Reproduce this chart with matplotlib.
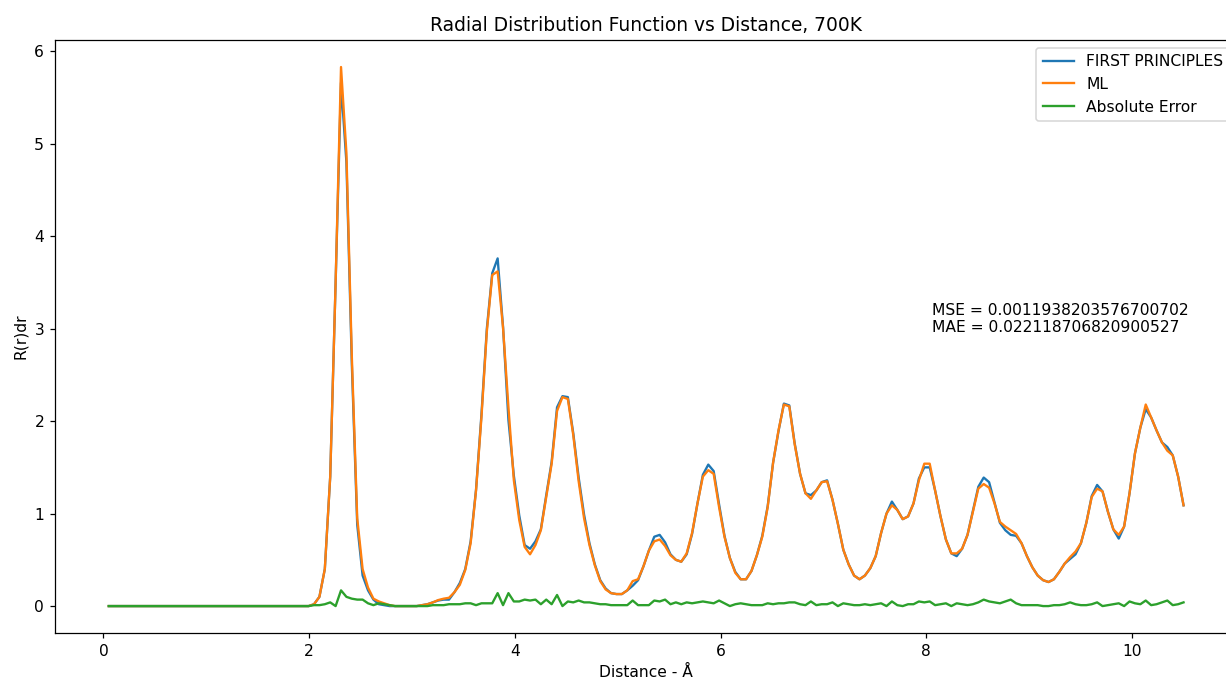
import numpy as np
import matplotlib
matplotlib.use("Agg")
import matplotlib.pyplot as plt

# RDF bins: 200 bins on (0, 10.5], plotted at the upper bin edge
r_max = 10.5
n_bins = 200
r = np.linspace(r_max / n_bins, r_max, n_bins)

first_principles = [0.0] * 37 + [
    0.0, 0.02, 0.1, 0.4, 1.4, 3.5, 5.66, 4.8, 2.62, 0.88,
    0.33, 0.17, 0.07, 0.02, 0.01, 0.0, 0.0, 0.0, 0.0, 0.0,
    0.0, 0.01, 0.02, 0.04, 0.06, 0.07, 0.07, 0.15, 0.25, 0.40,
    0.70, 1.26, 2.07, 3.0, 3.60, 3.76, 3.02, 2.01, 1.41, 0.98,
    0.66, 0.62, 0.70, 0.83, 1.20, 1.56, 2.15, 2.27, 2.26, 1.87,
    1.39, 0.99, 0.68, 0.45, 0.28, 0.19, 0.14, 0.13, 0.13, 0.17,
    0.22, 0.28, 0.43, 0.60, 0.75, 0.77, 0.69, 0.56, 0.50, 0.48,
    0.56, 0.78, 1.11, 1.42, 1.53, 1.46, 1.10, 0.76, 0.52, 0.37,
    0.29, 0.29, 0.38, 0.55, 0.76, 1.08, 1.55, 1.89, 2.19, 2.17,
    1.76, 1.43, 1.22, 1.20, 1.25, 1.34, 1.36, 1.15, 0.89, 0.61,
    0.45, 0.33, 0.29, 0.33, 0.41, 0.54, 0.79, 1.0, 1.13, 1.04,
    0.94, 0.97, 1.11, 1.38, 1.50, 1.50, 1.25, 0.97, 0.72, 0.57,
    0.54, 0.62, 0.77, 1.03, 1.29, 1.39, 1.34, 1.12, 0.90, 0.82,
    0.77, 0.76, 0.68, 0.54, 0.42, 0.33, 0.28, 0.26, 0.29, 0.37,
    0.46, 0.51, 0.56, 0.68, 0.90, 1.19, 1.31, 1.24, 1.02, 0.83,
    0.73, 0.86, 1.22, 1.65, 1.93, 2.13, 2.04, 1.90, 1.77, 1.72,
    1.63, 1.40, 1.09,
]

machine_learning = [0.0] * 37 + [
    0.0, 0.02, 0.1, 0.4, 1.4, 3.5, 5.83, 4.9, 2.7, 0.95,
    0.4, 0.2, 0.08, 0.05, 0.03, 0.01, 0.0, 0.0, 0.0, 0.0,
    0.0, 0.01, 0.02, 0.04, 0.065, 0.08, 0.09, 0.15, 0.23, 0.39,
    0.68, 1.25, 2.04, 2.97, 3.58, 3.62, 3.01, 2.15, 1.36, 0.93,
    0.64, 0.56, 0.66, 0.82, 1.18, 1.54, 2.11, 2.26, 2.24, 1.85,
    1.35, 0.95, 0.66, 0.44, 0.27, 0.18, 0.14, 0.13, 0.13, 0.17,
    0.27, 0.29, 0.43, 0.60, 0.70, 0.72, 0.65, 0.55, 0.50, 0.48,
    0.57, 0.79, 1.11, 1.40, 1.47, 1.43, 1.07, 0.75, 0.52, 0.36,
    0.29, 0.29, 0.38, 0.55, 0.75, 1.07, 1.55, 1.90, 2.18, 2.16,
    1.75, 1.43, 1.22, 1.16, 1.25, 1.34, 1.35, 1.15, 0.89, 0.61,
    0.45, 0.33, 0.29, 0.33, 0.41, 0.54, 0.79, 1.0, 1.09, 1.04,
    0.94, 0.97, 1.11, 1.36, 1.54, 1.54, 1.25, 0.97, 0.72, 0.57,
    0.57, 0.62, 0.77, 1.02, 1.27, 1.32, 1.28, 1.11, 0.91, 0.86,
    0.82, 0.78, 0.68, 0.54, 0.42, 0.33, 0.28, 0.26, 0.29, 0.37,
    0.46, 0.53, 0.59, 0.68, 0.90, 1.18, 1.27, 1.24, 1.02, 0.83,
    0.77, 0.86, 1.22, 1.65, 1.93, 2.18, 2.04, 1.90, 1.77, 1.68,
    1.63, 1.40, 1.09,
]

absolute_error = [0.0] * 37 + [
    0.0, 0.01, 0.01, 0.02, 0.04, 0.0, 0.17, 0.10, 0.08, 0.07,
    0.07, 0.03, 0.01, 0.03, 0.02, 0.01, 0.0, 0.0, 0.0, 0.0,
    0.0, 0.0, 0.0, 0.01, 0.01, 0.01, 0.02, 0.02, 0.02, 0.03,
    0.03, 0.01, 0.03, 0.03, 0.03, 0.14, 0.01, 0.14, 0.05, 0.05,
    0.07, 0.06, 0.07, 0.02, 0.07, 0.02, 0.12, 0.0, 0.05, 0.04,
    0.06, 0.04, 0.04, 0.03, 0.02, 0.02, 0.01, 0.01, 0.01, 0.01,
    0.06, 0.01, 0.01, 0.01, 0.06, 0.05, 0.07, 0.02, 0.04, 0.02,
    0.04, 0.03, 0.04, 0.05, 0.04, 0.03, 0.06, 0.03, 0.0, 0.02,
    0.03, 0.02, 0.01, 0.01, 0.01, 0.03, 0.02, 0.03, 0.03, 0.04,
    0.04, 0.02, 0.01, 0.05, 0.01, 0.02, 0.02, 0.04, 0.0, 0.03,
    0.02, 0.01, 0.01, 0.02, 0.01, 0.02, 0.03, 0.0, 0.05, 0.01,
    0.0, 0.02, 0.02, 0.05, 0.04, 0.05, 0.01, 0.02, 0.03, 0.0,
    0.03, 0.02, 0.01, 0.02, 0.04, 0.07, 0.05, 0.04, 0.03, 0.05,
    0.07, 0.03, 0.01, 0.01, 0.01, 0.01, 0.0, 0.0, 0.01, 0.01,
    0.02, 0.04, 0.02, 0.01, 0.01, 0.02, 0.04, 0.0, 0.01, 0.02,
    0.03, 0.0, 0.05, 0.03, 0.02, 0.06, 0.01, 0.02, 0.04, 0.06,
    0.01, 0.02, 0.04,
]

mse_text = "MSE = 0.0011938203576700702"
mae_text = "MAE = 0.022118706820900527"

DPI = 112
fig = plt.figure(figsize=(1226 / DPI, 679 / DPI), dpi=DPI)
ax = fig.add_axes([0.0449, 0.0677, 0.9643, 0.8733])
ax.plot(r, first_principles, label="FIRST PRINCIPLES")
ax.plot(r, machine_learning, label="ML")
ax.plot(r, absolute_error, label="Absolute Error")
ax.set_title("Radial Distribution Function vs Distance, 700K")
ax.set_xlabel("Distance - Å")
ax.set_ylabel("R(r)dr")
ax.text(8.05, 2.96, mse_text + "\n" + mae_text)
ax.legend(loc="upper right")
fig.savefig("out.png", dpi=DPI)
